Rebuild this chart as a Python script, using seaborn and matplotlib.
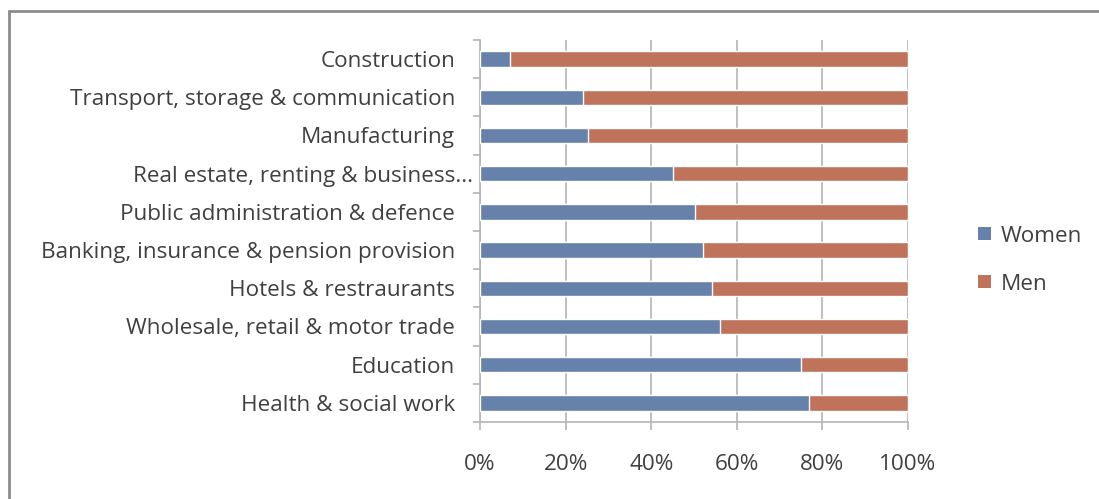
import matplotlib
matplotlib.use("Agg")
import matplotlib.pyplot as plt
import matplotlib.transforms as mtransforms
from matplotlib.patches import Patch
import seaborn as sns
import pandas as pd

# Share of employees by sex in each industry (%)
industries = [
    "Construction",
    "Transport, storage & communication",
    "Manufacturing",
    "Real estate, renting & business...",
    "Public administration & defence",
    "Banking, insurance & pension provision",
    "Hotels & restraurants",
    "Wholesale, retail & motor trade",
    "Education",
    "Health & social work",
]
women = [7.0, 24.0, 25.2, 45.0, 50.2, 52.2, 54.3, 56.1, 74.9, 76.9]
men = [100 - w for w in women]
x_ticks = [0, 20, 40, 60, 80, 100]
x_tick_labels = ["0%", "20%", "40%", "60%", "80%", "100%"]

BLUE = "#6681AA"
RED = "#BF735A"
GRID = "#B4B4B4"
TEXT = "#404040"
FS = 16.2

sns.set_theme(style="white")
plt.rcParams["font.family"] = ["Open Sans", "DejaVu Sans"]

df = pd.DataFrame({"industry": industries, "women": women, "men": men})
df["total"] = df["women"] + df["men"]

fig = plt.figure(figsize=(10.99, 4.99), dpi=100)
ax = fig.add_axes([480 / 1099, 1 - 422 / 499, 428 / 1099, 382 / 499])

# Stacked bars: full bar (women + men) in the men colour, women drawn over it
sns.barplot(data=df, y="industry", x="total", color=RED, width=0.4,
            saturation=1, ax=ax, zorder=3, orient="h")
sns.barplot(data=df, y="industry", x="women", color=BLUE, width=0.4,
            saturation=1, ax=ax, zorder=4, orient="h")

ax.set_xlim(0, 100)
ax.set_ylim(len(industries) - 0.5, -0.5)
ax.set_xlabel("")
ax.set_ylabel("")

ax.set_xticks(x_ticks)
ax.set_xticklabels(x_tick_labels)
ax.grid(axis="x", color=GRID, linewidth=1.2, zorder=0)
ax.grid(axis="y", visible=False)

for side in ["top", "right"]:
    ax.spines[side].set_visible(False)
for side in ["left", "bottom"]:
    ax.spines[side].set_color(GRID)
    ax.spines[side].set_linewidth(1.2)

# Category ticks sit between the bars
ax.set_yticks(range(len(industries)))
ax.set_yticklabels(industries)
ax.tick_params(axis="y", length=0, pad=18, labelsize=FS, labelcolor=TEXT)
ax.set_yticks([i + 0.5 for i in range(-1, len(industries))], minor=True)
ax.tick_params(axis="y", which="minor", length=5, width=1.2, color=GRID,
               direction="out", left=True)
ax.tick_params(axis="x", length=6, width=1.2, color=GRID, direction="out",
               bottom=True, pad=17, labelsize=FS, labelcolor=TEXT)

# The truncated label runs a little further right than the others
for lbl in ax.get_yticklabels():
    if lbl.get_text().endswith("..."):
        lbl.set_transform(lbl.get_transform() +
                          mtransforms.ScaledTranslation(18 / 100, 0, fig.dpi_scale_trans))

handles = [Patch(facecolor=BLUE, edgecolor="none"),
           Patch(facecolor=RED, edgecolor="none")]
fig.legend(handles, ["Women", "Men"], loc="center left",
           bbox_to_anchor=(967 / 1099, 1 - 260 / 499), frameon=False,
           fontsize=FS, labelcolor=TEXT, handlelength=0.55, handleheight=0.55,
           handletextpad=0.45, labelspacing=1.2, borderpad=0)

# Outer frame of the chart area (top and left edges)
fig.add_artist(plt.Line2D([9 / 1099, 1], [1 - 11 / 499, 1 - 11 / 499],
                          transform=fig.transFigure, color="#8C8C8C", linewidth=2))
fig.add_artist(plt.Line2D([9 / 1099, 9 / 1099], [0, 1 - 11 / 499],
                          transform=fig.transFigure, color="#8C8C8C", linewidth=2))

fig.savefig("out.png", dpi=100)
